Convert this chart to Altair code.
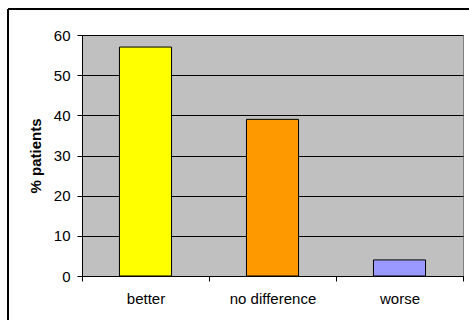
import altair as alt
import pandas as pd

categories = ["better", "no difference", "worse"]
values = [57, 39, 4]
colors = ["#FFFF00", "#FF9900", "#9999FF"]

df = pd.DataFrame({"category": categories, "value": values})

FONT = "Liberation Sans"

bars = alt.Chart(df).mark_bar(
    stroke="black", strokeWidth=1, width=alt.RelativeBandSize(0.41)
).encode(
    x=alt.X(
        "category:N",
        sort=categories,
        scale=alt.Scale(paddingInner=0, paddingOuter=0),
        axis=alt.Axis(
            title=None,
            labelAngle=0,
            tickBand="extent",
            ticks=True,
            tickSize=5,
            tickWidth=1,
            labelPadding=10,
            labelFontSize=15,
            labelColor="black",
            domainColor="black",
            tickColor="black",
            grid=False,
        ),
    ),
    y=alt.Y(
        "value:Q",
        scale=alt.Scale(domain=[0, 60]),
        axis=alt.Axis(
            title="% patients",
            values=[0, 10, 20, 30, 40, 50, 60],
            tickSize=5,
            labelPadding=7,
            labelFontSize=15,
            labelColor="black",
            titleFontSize=15,
            titleFontWeight="bold",
            titleColor="black",
            titlePadding=10,
            domainColor="black",
            tickColor="black",
            grid=True,
            gridColor="black",
            gridOpacity=1,
            gridWidth=1,
        ),
    ),
    color=alt.Color(
        "category:N",
        sort=categories,
        scale=alt.Scale(domain=categories, range=colors),
        legend=None,
    ),
)

border_top = alt.Chart(alt.Data(values=[{"a": 1}])).mark_rule(
    stroke="black", strokeWidth=2
).encode(
    x=alt.value(-74), x2=alt.value(400), y=alt.value(-26)
)
border_left = alt.Chart(alt.Data(values=[{"a": 1}])).mark_rule(
    stroke="black", strokeWidth=2
).encode(
    x=alt.value(-74), y=alt.value(-26), y2=alt.value(300)
)

chart = alt.layer(bars, border_top, border_left).properties(
    width=381,
    height=241,
    autosize=alt.AutoSizeParams(type="none"),
    padding={"left": 82, "top": 35, "right": 6, "bottom": 44},
    background="white",
).configure(font=FONT).configure_view(
    fill="#C0C0C0",
    stroke="#808080",
    strokeWidth=1,
)

chart.save("out.html", embed_options={"renderer": "svg", "actions": False})
